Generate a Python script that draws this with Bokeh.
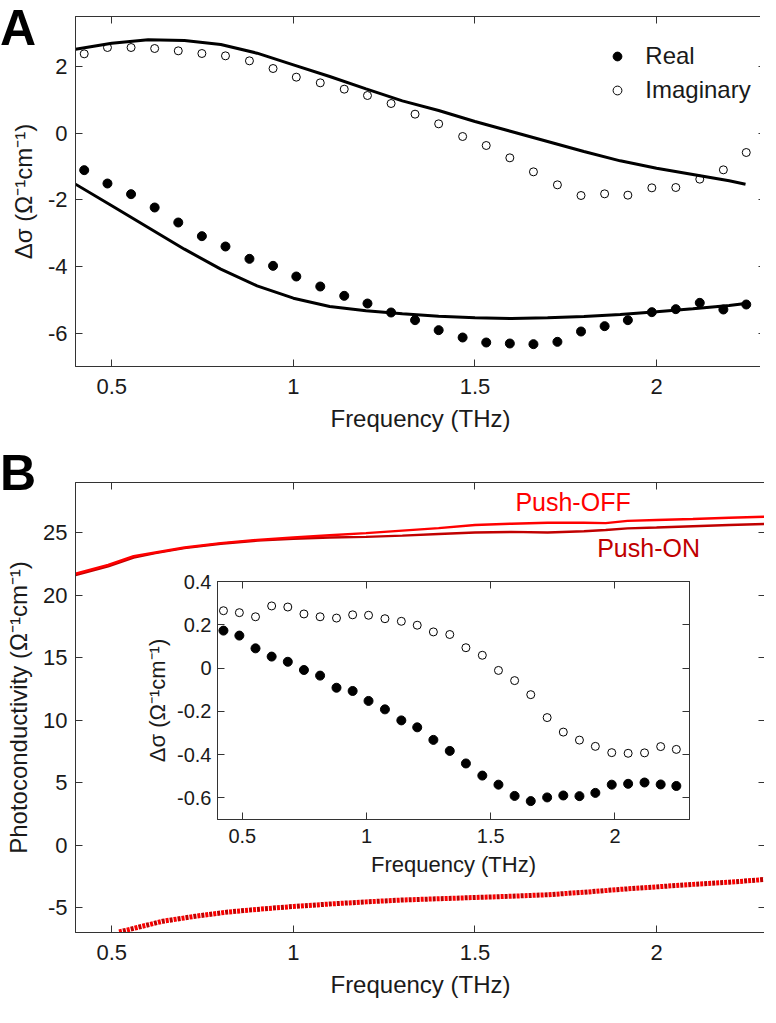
from bokeh.plotting import figure
from bokeh.models import (Range1d, LinearAxis, FixedTicker, PrintfTickFormatter,
                          Legend, LegendItem, Label, Div)
from bokeh.layouts import column
from bokeh.embed import file_html
from bokeh.resources import INLINE

# ---------------- data ----------------
freq = [0.424, 0.488, 0.553, 0.618, 0.683, 0.748, 0.813, 0.879, 0.944, 1.008,
        1.074, 1.140, 1.204, 1.269, 1.335, 1.400, 1.466, 1.531, 1.596, 1.661,
        1.727, 1.792, 1.857, 1.921, 1.987, 2.053, 2.119, 2.184, 2.247]

real_A = [-1.11, -1.51, -1.83, -2.23, -2.68, -3.09, -3.40, -3.77, -3.98, -4.30,
          -4.60, -4.88, -5.11, -5.38, -5.61, -5.91, -6.13, -6.28, -6.31, -6.33,
          -6.26, -5.95, -5.79, -5.61, -5.37, -5.28, -5.09, -5.29, -5.14]
imag_A = [2.38, 2.57, 2.57, 2.54, 2.47, 2.39, 2.32, 2.17, 1.94, 1.68,
          1.51, 1.32, 1.13, 0.89, 0.57, 0.28, -0.10, -0.37, -0.74, -1.16,
          -1.55, -1.87, -1.82, -1.86, -1.64, -1.63, -1.38, -1.10, -0.58]

fit_f = [0.40, 0.50, 0.60, 0.70, 0.80, 0.90, 1.00, 1.10, 1.20, 1.30, 1.40,
         1.50, 1.60, 1.70, 1.80, 1.90, 2.00, 2.10, 2.20, 2.245]
fit_real = [-1.53, -2.18, -2.83, -3.48, -4.08, -4.58, -4.95, -5.20, -5.33, -5.42,
            -5.49, -5.54, -5.56, -5.54, -5.50, -5.44, -5.36, -5.27, -5.17, -5.11]
fit_imag = [2.52, 2.70, 2.80, 2.78, 2.66, 2.40, 2.05, 1.70, 1.33, 0.97, 0.68,
            0.35, 0.05, -0.25, -0.55, -0.83, -1.05, -1.24, -1.43, -1.53]

line_f = [0.40, 0.49, 0.56, 0.62, 0.70, 0.80, 0.90, 1.00, 1.10, 1.20, 1.30,
          1.40, 1.50, 1.60, 1.70, 1.80, 1.86, 1.92, 2.00, 2.10, 2.20, 2.30]
push_off = [21.7, 22.4, 23.1, 23.4, 23.8, 24.15, 24.4, 24.6, 24.78, 24.95, 25.15,
            25.35, 25.6, 25.7, 25.78, 25.78, 25.75, 25.93, 26.0, 26.08, 26.18, 26.26]
push_on = [21.6, 22.3, 23.0, 23.35, 23.75, 24.1, 24.35, 24.5, 24.6, 24.65, 24.75,
           24.88, 25.0, 25.05, 25.0, 25.1, 25.2, 25.33, 25.4, 25.5, 25.6, 25.68]

diff_f = [0.52, 0.57, 0.64, 0.73, 0.82, 0.92, 1.00, 1.10, 1.20, 1.30, 1.40,
          1.50, 1.60, 1.70, 1.80, 1.90, 2.00, 2.10, 2.20, 2.30]
diff_v = [-6.96, -6.6, -6.1, -5.7, -5.36, -5.1, -4.92, -4.72, -4.55, -4.4, -4.3,
          -4.2, -4.1, -3.98, -3.78, -3.55, -3.35, -3.15, -2.98, -2.75]

inset_real = [0.173, 0.150, 0.091, 0.053, 0.029, -0.009, -0.035, -0.091, -0.106, -0.152,
              -0.191, -0.242, -0.274, -0.332, -0.383, -0.441, -0.497, -0.539, -0.591, -0.615,
              -0.598, -0.589, -0.592, -0.577, -0.539, -0.535, -0.529, -0.538, -0.545]
inset_imag = [0.265, 0.256, 0.237, 0.287, 0.282, 0.250, 0.237, 0.231, 0.246, 0.244,
              0.228, 0.216, 0.198, 0.167, 0.155, 0.094, 0.059, -0.011, -0.058, -0.123,
              -0.229, -0.296, -0.333, -0.362, -0.391, -0.394, -0.392, -0.363, -0.376]

x_ticks = [0.5, 1, 1.5, 2]
yA_ticks = [-6, -4, -2, 0, 2]
yB_ticks = [-5, 0, 5, 10, 15, 20, 25]
yI_ticks = [-0.6, -0.4, -0.2, 0, 0.2, 0.4]

# ---------------- style helpers ----------------
FONT = "Liberation Sans"
INK = "#1a1a1a"
AX = "#333333"
RED = "#FF0000"
DARKRED = "#C00000"


def dress(p, xticks, yticks, tick_px, lab_px, xlabel, ylabel,
          xstand=10, ystand=8, xlab_stand=8, ylab_stand=8):
    p.xgrid.visible = False
    p.ygrid.visible = False
    p.outline_line_color = AX
    p.outline_line_width = 1
    p.background_fill_color = "white"
    for ax, ticks, lab, st, lst in ((p.xaxis[0], xticks, xlabel, xstand, xlab_stand),
                                    (p.yaxis[0], yticks, ylabel, ystand, ylab_stand)):
        ax.ticker = FixedTicker(ticks=ticks)
        ax.formatter = PrintfTickFormatter(format="%g")
        ax.major_tick_in = 7
        ax.major_tick_out = 0
        ax.minor_tick_line_color = None
        ax.axis_line_color = AX
        ax.major_tick_line_color = AX
        ax.major_label_text_font = FONT
        ax.major_label_text_font_size = f"{tick_px}px"
        ax.major_label_text_color = INK
        ax.major_label_standoff = st
        ax.axis_label = lab
        ax.axis_label_text_font = FONT
        ax.axis_label_text_font_size = f"{lab_px}px"
        ax.axis_label_text_font_style = "normal"
        ax.axis_label_text_color = INK
        ax.axis_label_standoff = lst
    # mirrored inward ticks on top and right (MATLAB box style), no labels drawn
    for side, ticks in (("above", xticks), ("right", yticks)):
        m = LinearAxis(ticker=FixedTicker(ticks=ticks), major_tick_in=7, major_tick_out=0,
                       minor_tick_line_color=None, axis_line_color=AX,
                       major_tick_line_color=AX, major_label_text_font_size="1px",
                       major_label_text_color=None, major_label_standoff=0)
        p.add_layout(m, side)


def panel_letter(letter, top, left):
    return Div(text=("<div style=\"font-family:'Liberation Sans';font-size:50px;"
                     "font-weight:bold;line-height:50px;color:#000;\">%s</div>" % letter),
               width=60, height=60, margin=(top, 0, 0, left),
               styles={"line-height": "50px", "font-size": "50px"})


# ---------------- panel A ----------------
pA = figure(frame_width=690, frame_height=350,
            x_range=Range1d(0.4, 2.3), y_range=Range1d(-7, 3.5),
            min_border_left=69, min_border_right=1, min_border_top=16, min_border_bottom=72,
            output_backend="svg", toolbar_location=None)
dress(pA, x_ticks, yA_ticks, 22, 24, "Frequency (THz)", "Δσ (Ω⁻¹cm⁻¹)",
      xstand=12)

pA.line(fit_f, fit_imag, line_width=3, color="black")
pA.line(fit_f, fit_real, line_width=3, color="black")
r_real = pA.scatter(freq, real_A, size=9, color="black")
r_imag = pA.scatter(freq, imag_A, size=8, fill_color=None, line_color="black", line_width=1)

leg = Legend(items=[LegendItem(label="Real", renderers=[r_real]),
                    LegendItem(label="Imaginary", renderers=[r_imag])],
             location=(537, 262), border_line_color=None, background_fill_alpha=0,
             label_text_font=FONT, label_text_font_size="24px", label_text_color=INK,
             glyph_width=22, glyph_height=22, label_standoff=17, spacing=6,
             padding=5, margin=0)
pA.add_layout(leg)

# ---------------- panel B ----------------
pB = figure(frame_width=690, frame_height=450,
            x_range=Range1d(0.4, 2.3), y_range=Range1d(-7, 29),
            min_border_left=69, min_border_right=1, min_border_top=44, min_border_bottom=75,
            output_backend="svg", toolbar_location=None)
dress(pB, x_ticks, yB_ticks, 22, 24, "Frequency (THz)", "Photoconductivity (Ω⁻¹cm⁻¹)",
      xstand=12)

pB.line(line_f, push_on, line_width=2.5, color=DARKRED)
pB.line(line_f, push_off, line_width=2.5, color=RED)
pB.line(diff_f, diff_v, line_width=5, color=RED, line_dash="3 5", line_cap="butt")
pB.line(diff_f, diff_v, line_width=5, color=DARKRED, line_dash="3 5",
        line_dash_offset=4, line_cap="butt")

pB.add_layout(Label(x=1.77, y=27.45, text="Push-OFF", text_font=FONT, text_font_size="25px",
                    text_color=RED, text_align="center", text_baseline="middle"))
pB.add_layout(Label(x=1.978, y=23.74, text="Push-ON", text_font=FONT, text_font_size="25px",
                    text_color=DARKRED, text_align="center", text_baseline="middle"))

# ---------------- inset ----------------
pI = figure(frame_width=472, frame_height=238,
            x_range=Range1d(0.4, 2.3), y_range=Range1d(-0.7, 0.4),
            min_border_left=69, min_border_right=3, min_border_top=16, min_border_bottom=70,
            output_backend="svg", toolbar_location=None)
dress(pI, x_ticks, yI_ticks, 20, 22, "Frequency (THz)", "Δσ (Ω⁻¹cm⁻¹)",
      xstand=9, ystand=6, xlab_stand=6, ylab_stand=4)
pI.border_fill_alpha = 0
pI.scatter(freq, inset_imag, size=8, fill_color=None, line_color="black", line_width=1)
pI.scatter(freq, inset_real, size=9, color="black")
pI.margin = (-442, 0, 0, 142)

# panel letters, overlaid with negative margins (inset ends at y=897 in page flow)
# divA box: page y 11..71 ; divB box: page y 456..516
divA = panel_letter("A", -886, 0)
divB = panel_letter("B", 385, 0)

layout = column(pA, pB, pI, divA, divB, spacing=0)
open("out.html", "w").write(file_html(layout, INLINE))
